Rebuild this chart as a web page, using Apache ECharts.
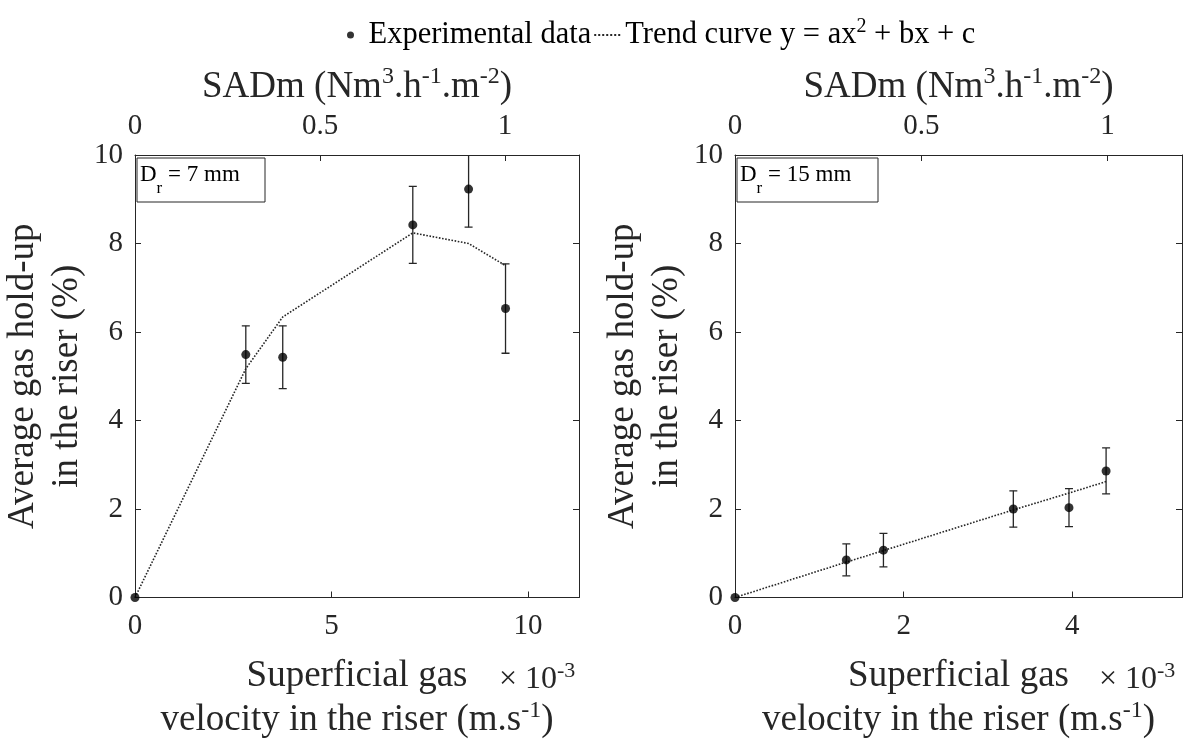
<!DOCTYPE html>
<html>
<head>
<meta charset="utf-8">
<script src="https://cdn.jsdelivr.net/npm/echarts@6/dist/echarts.min.js"></script>
<style>
  html, body { margin: 0; padding: 0; background: #fff; }
  #container { width: 1184px; height: 744px; }
</style>
</head>
<body>
<div id="container"></div>
<script>
var FONT = '"Liberation Serif", "Times New Roman", serif';
var INK = '#262626';

// riser diameter 7 mm
var vel7 = [0, 2.82, 3.76, 7.07, 8.49, 9.43];
var hold7 = [0, 5.49, 5.43, 8.42, 9.23, 6.53];
var err7 = [0, 0.65, 0.71, 0.87, 0.86, 1.01];
var trend7 = [0, 5.17, 6.34, 8.24, 8.0, 7.5];

// riser diameter 15 mm
var vel15 = [0, 1.32, 1.76, 3.30, 3.96, 4.40];
var hold15 = [0, 0.85, 1.07, 2.00, 2.03, 2.86];
var err15 = [0, 0.36, 0.38, 0.41, 0.43, 0.52];
var trend15 = [0, 0.80, 1.06, 1.98, 2.36, 2.62];

var panelNames = ['7', '15'];
var velMax = [11.3, 5.3];
var velStep = [5, 2];
var sadmMax = 1.2;
var sadmStep = 0.5;
var holdMax = 10;
var holdStep = 2;

var dotName = 'Experimental data';
var fitName = 'Trend curve';

var dom = document.getElementById('container');
var myChart = echarts.init(dom, null, { renderer: 'canvas' });

var nameRich = {
  n: { fontFamily: FONT, fontSize: 37, color: INK, lineHeight: 44 },
  s: { fontFamily: FONT, fontSize: 24, color: INK, lineHeight: 18, verticalAlign: 'top' }
};

function pairs(xs, ys) {
  return xs.map(function (x, i) { return [x, ys[i]]; });
}
function bars(xs, ys, es) {
  return xs.map(function (x, i) { return [x, ys[i] - es[i], ys[i] + es[i]]; });
}

// error bar with caps
function errorBar(params, api) {
  var x = api.value(0), lo = api.value(1), hi = api.value(2);
  if (lo === hi) return null;
  var a = api.coord([x, hi]), b = api.coord([x, lo]);
  var w = 4;
  var st = { stroke: INK, lineWidth: 1.3 };
  return {
    type: 'group',
    children: [
      { type: 'line', shape: { x1: a[0], y1: a[1], x2: b[0], y2: b[1] }, style: st },
      { type: 'line', shape: { x1: a[0] - w, y1: a[1], x2: a[0] + w, y2: a[1] }, style: st },
      { type: 'line', shape: { x1: b[0] - w, y1: b[1], x2: b[0] + w, y2: b[1] }, style: st }
    ]
  };
}

var grids = [
  { left: 135, top: 155, width: 444, height: 445 },
  { left: 735, top: 155, width: 447, height: 445 }
];

var tickLbl = { fontFamily: FONT, fontSize: 29, color: INK };
var line = { show: true, onZero: false, lineStyle: { color: INK, width: 1 } };
var tick = { show: true, inside: true, length: 6, lineStyle: { color: INK, width: 1 } };

var xAxes = [], yAxes = [], series = [];
[0, 1].forEach(function (g) {
  xAxes.push({
    type: 'value', gridIndex: g, position: 'bottom', min: 0, max: velMax[g], interval: velStep[g],
    axisLine: line, axisTick: tick, splitLine: { show: false },
    axisLabel: Object.assign({ margin: 14, showMaxLabel: false }, tickLbl),
    name: '{n|Superficial gas}\n{n|velocity in the riser (m.s}{s|-1}{n|)}',
    nameLocation: 'middle', nameGap: 57,
    nameTextStyle: { rich: nameRich }
  });
  xAxes.push({
    type: 'value', gridIndex: g, position: 'top', min: 0, max: sadmMax, interval: sadmStep,
    axisLine: line, axisTick: tick, splitLine: { show: false },
    axisLabel: Object.assign({ margin: 14, showMaxLabel: false }, tickLbl),
    name: '{n|SADm (Nm}{s|3}{n|.h}{s|-1}{n|.m}{s|-2}{n|)}',
    nameLocation: 'middle', nameGap: 46,
    nameTextStyle: { rich: nameRich }
  });
  yAxes.push({
    type: 'value', gridIndex: g, position: 'left', min: 0, max: holdMax, interval: holdStep,
    axisLine: line, axisTick: tick, splitLine: { show: false },
    axisLabel: Object.assign({ margin: 12 }, tickLbl),
    name: '{n|Average gas hold-up}\n{n|in the riser (%)}',
    nameLocation: 'middle', nameGap: 46,
    nameTextStyle: { rich: nameRich }
  });
  yAxes.push({
    type: 'value', gridIndex: g, position: 'right', min: 0, max: holdMax, interval: holdStep,
    axisLine: line, axisTick: tick, splitLine: { show: false },
    axisLabel: { show: false }
  });
});

var sets = [
  { v: vel7, h: hold7, e: err7, t: trend7 },
  { v: vel15, h: hold15, e: err15, t: trend15 }
];
sets.forEach(function (d, g) {
  series.push({
    name: fitName, type: 'line', xAxisIndex: 2 * g, yAxisIndex: 2 * g,
    data: pairs(d.v, d.t), symbol: 'none', z: 2,
    lineStyle: { color: INK, width: 1.6, type: 'dotted' }, itemStyle: { color: INK }
  });
  series.push({
    type: 'custom', xAxisIndex: 2 * g, yAxisIndex: 2 * g, clip: true, z: 3,
    data: bars(d.v, d.h, d.e), encode: { x: 0, y: [1, 2] }, renderItem: errorBar
  });
  series.push({
    name: dotName, type: 'scatter', xAxisIndex: 2 * g, yAxisIndex: 2 * g,
    data: pairs(d.v, d.h), symbol: 'circle', symbolSize: 9, z: 4,
    itemStyle: { color: '#000' }
  });
});

// D_r label boxes
var graphics = [];
var boxes = [{ x: 137, w: 128 }, { x: 737, w: 141 }];
boxes.forEach(function (b, i) {
  graphics.push({
    type: 'rect', shape: { x: b.x, y: 158, width: b.w, height: 44 },
    style: { fill: '#fff', stroke: INK, lineWidth: 1 }, z: 10
  });
  graphics.push({
    type: 'text', x: b.x + 3, y: 163, z: 11,
    style: {
      text: '{n|D}{s|r}{n| = ' + panelNames[i] + ' mm}',
      rich: {
        n: { fontFamily: FONT, fontSize: 23, fill: '#000', lineHeight: 24, verticalAlign: 'top' },
        s: { fontFamily: FONT, fontSize: 17, fill: '#000', lineHeight: 34, verticalAlign: 'bottom' }
      }
    }
  });
});
// x10^-3 multipliers
[499, 1099].forEach(function (x) {
  graphics.push({
    type: 'text', x: x, y: 660,
    style: {
      text: '{n|\u00d7 10}{s|-3}',
      rich: {
        n: { fontFamily: FONT, fontSize: 32, fill: INK, lineHeight: 40 },
        s: { fontFamily: FONT, fontSize: 22, fill: INK, lineHeight: 16, verticalAlign: 'top' }
      }
    }
  });
});

var option = {
  backgroundColor: '#fff',
  animation: false,
  grid: grids,
  xAxis: xAxes,
  yAxis: yAxes,
  legend: {
    top: 12, left: 342, itemGap: 2, itemWidth: 26, itemHeight: 7,
    data: [
      { name: dotName, icon: 'circle' },
      { name: fitName, itemStyle: { opacity: 0 } }
    ],
    formatter: function (name) {
      if (name === fitName) return name + ' y = ax{s|2} + bx + c';
      return name;
    },
    textStyle: {
      fontFamily: FONT, fontSize: 30.5, color: '#000', lineHeight: 36,
      rich: { s: { fontFamily: FONT, fontSize: 20, color: '#000', lineHeight: 18, verticalAlign: 'top' } }
    }
  },
  graphic: graphics,
  series: series
};

myChart.setOption(option);
window.addEventListener('resize', myChart.resize);
</script>
</body>
</html>
